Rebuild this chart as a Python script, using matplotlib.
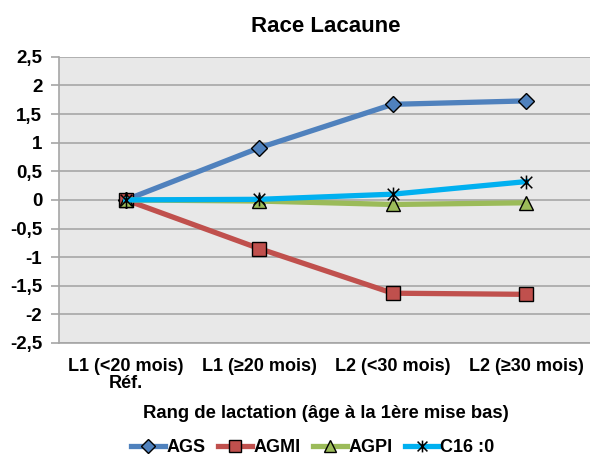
import matplotlib
matplotlib.use('Agg')
import matplotlib.pyplot as plt
from matplotlib.path import Path
from matplotlib.ticker import FuncFormatter, MultipleLocator

plt.rcParams['font.family'] = ['Liberation Sans', 'DejaVu Sans']
plt.rcParams['font.weight'] = 'bold'

categories = ['L1 (<20 mois)\nRéf.', 'L1 (≥20 mois)', 'L2 (<30 mois)', 'L2 (≥30 mois)']
ags = [0, 0.91, 1.67, 1.73]
agmi = [0, -0.85, -1.63, -1.65]
agpi = [0, -0.02, -0.08, -0.05]
c16 = [0, 0.01, 0.10, 0.32]

# Excel-style star: X with a vertical bar
star = Path([(-1, -1), (1, 1), (-1, 1), (1, -1), (0, -1.2), (0, 1.2)],
            [Path.MOVETO, Path.LINETO, Path.MOVETO, Path.LINETO, Path.MOVETO, Path.LINETO])

fig = plt.figure(figsize=(5.9, 4.62), dpi=100)
ax = fig.add_axes([0.1, 0.2576, 0.905, 0.6194])
ax.set_facecolor('#e8e8e8')

x = range(len(categories))
lw = 3.8
ax.plot(x, ags, color='#4f81bd', lw=lw, marker='D', ms=8, mfc='#4f81bd',
        mec='black', mew=1, label='AGS', zorder=3)
ax.plot(x, agmi, color='#c0504d', lw=lw, marker='s', ms=10, mfc='#c0504d',
        mec='black', mew=1, label='AGMI', zorder=3)
ax.plot(x, agpi, color='#9bbb59', lw=lw, marker='^', ms=10, mfc='#9bbb59',
        mec='black', mew=1, label='AGPI', zorder=3)
ax.plot(x, c16, color='#00b0f0', lw=lw, marker=star, ms=10, mfc='none',
        mec='black', mew=1.1, label='C16 :0', zorder=3)

ax.set_xlim(-0.5, 3.5)
ax.set_ylim(-2.5, 2.5)
ax.yaxis.set_major_locator(MultipleLocator(0.5))
ax.yaxis.set_major_formatter(FuncFormatter(lambda v, p: ('%g' % v).replace('.', ',')))
ax.grid(axis='y', color='#a6a6a6', lw=1.2)
ax.set_axisbelow(True)

ax.set_xticks(list(x))
ax.set_xticklabels(categories, fontsize=13, fontweight='bold', linespacing=1.0)
ax.tick_params(axis='x', length=0, pad=11)
ax.tick_params(axis='y', labelsize=13.5, length=6, color='#a6a6a6', width=1.2, pad=6)
for side in ['top', 'right']:
    ax.spines[side].set_visible(False)
ax.spines['left'].set_color('#a6a6a6')
ax.spines['left'].set_linewidth(1.2)
ax.spines['bottom'].set_color('#a6a6a6')
ax.spines['bottom'].set_linewidth(1.2)

ax.set_title('Race Lacaune', fontsize=16, fontweight='bold', pad=18)
ax.set_xlabel('Rang de lactation (âge à la 1ère mise bas)', fontsize=13.3,
              fontweight='bold', labelpad=9)

fig.legend(loc='lower center', ncol=4, frameon=False, fontsize=13,
           bbox_to_anchor=(0.53, -0.022), handlelength=1.9, columnspacing=0.7,
           handletextpad=0.05, markerscale=0.85)

fig.savefig('out.png', dpi=100, facecolor='white')
